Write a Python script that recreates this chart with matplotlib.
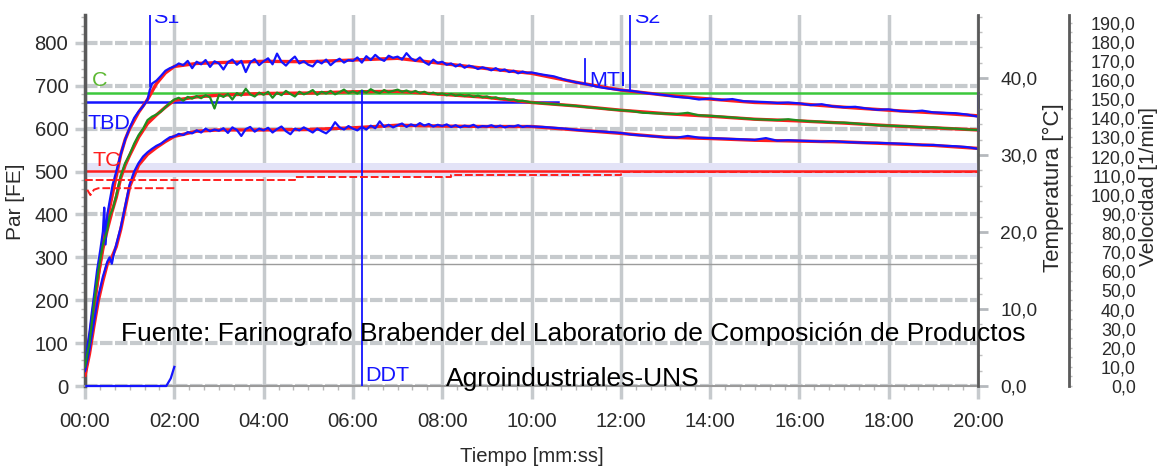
import matplotlib
matplotlib.use('Agg')
import matplotlib.pyplot as plt
from matplotlib import font_manager
from matplotlib.ticker import MultipleLocator, FuncFormatter
import numpy as np

# condensed font for the instrument labels, if it is there
names = {f.name for f in font_manager.fontManager.ttflist}
narrow = 'Liberation Sans Narrow' if 'Liberation Sans Narrow' in names else 'Liberation Sans'
shrink = 1.0 if narrow == 'Liberation Sans Narrow' else 0.86
plt.rcParams['font.family'] = [narrow, 'DejaVu Sans']

# ---- data (time in minutes, torque in FE) ----
t_fine = np.round(np.arange(2.0, 10.05, 0.1), 1)
t_late = np.arange(10.25, 20.01, 0.25)

up_t_early = [0, 0.05, 0.1, 0.15, 0.2, 0.27, 0.34, 0.4, 0.43, 0.46, 0.5, 0.55, 0.62, 0.7,
              0.8, 0.9, 1.0, 1.1, 1.2, 1.3, 1.4, 1.45, 1.5, 1.6, 1.7, 1.8, 1.9]
up_early = [40, 90, 125, 170, 210, 270, 316, 360, 416, 330, 400, 430, 470, 500,
            540, 575, 602, 625, 640, 652, 668, 690, 705, 712, 723, 735, 741]
up_fine = [745, 752, 748, 758, 741, 756, 750, 760, 744, 757,
           752, 738, 755, 761, 749, 758, 732, 754, 762, 748,
           757, 764, 750, 775, 756, 747, 759, 768, 752, 757,
           749, 745, 758, 752, 761, 748, 757, 763, 754, 760,
           758, 766, 754, 769, 760, 772, 763, 758, 770, 765,
           768, 761, 776, 764, 758, 766, 755, 749, 761, 753,
           756, 749, 752, 745, 750, 742, 747, 744, 739, 743,
           740, 736, 741, 735, 738, 732, 735, 729, 733, 730,
           731]
up_late = [726, 722, 714, 708, 703, 697, 693, 690, 688, 684, 681, 678, 674, 672, 668, 670,
           667, 669, 664, 663, 662, 660, 661, 659, 655, 657, 652, 650, 651, 647, 644, 645,
           641, 640, 642, 638, 637, 636, 633, 628]

med_t_early = [0, 0.05, 0.1, 0.2, 0.3, 0.4, 0.5, 0.55, 0.63, 0.7, 0.8, 0.9, 1.0, 1.1,
               1.2, 1.3, 1.4, 1.5, 1.6, 1.7, 1.8, 1.9]
med_early = [45, 75, 100, 190, 270, 330, 365, 395, 416, 445, 490, 520, 540, 565,
             585, 600, 620, 628, 633, 640, 650, 660]
med_fine = [668, 672, 665, 674, 670, 676, 671, 678, 673, 647,
            679, 674, 681, 668, 683, 677, 693, 680, 675, 684,
            679, 686, 672, 684, 678, 688, 681, 675, 686, 680,
            684, 690, 679, 686, 682, 688, 680, 685, 691, 683,
            687, 682, 689, 684, 692, 686, 683, 690, 685, 688,
            691, 686, 689, 684, 688, 683, 686, 681, 684, 680,
            682, 678, 681, 677, 679, 676, 678, 674, 677, 673,
            675, 671, 673, 669, 670, 667, 668, 664, 665, 663,
            661]
med_late = [659, 657, 655, 653, 650, 648, 645, 643, 641, 637, 636, 635, 634, 637, 631, 630,
            628, 626, 624, 622, 621, 620, 622, 619, 617, 616, 614, 614, 612, 610, 608, 607,
            606, 605, 603, 603, 601, 600, 598, 597]

low_t_early = [0, 0.05, 0.1, 0.2, 0.3, 0.4, 0.5, 0.55, 0.6, 0.65, 0.7, 0.8, 0.9, 1.0,
               1.1, 1.2, 1.3, 1.4, 1.5, 1.6, 1.7, 1.8, 1.9]
low_early = [35, 60, 85, 150, 210, 255, 290, 300, 285, 310, 330, 370, 420, 470,
             500, 520, 535, 545, 553, 560, 565, 573, 580]
low_fine = [582, 588, 585, 592, 589, 596, 591, 600, 594, 598,
            595, 601, 590, 603, 597, 583, 599, 604, 593, 600,
            596, 602, 591, 599, 605, 594, 587, 600, 596, 603,
            597, 591, 600, 594, 589, 598, 615, 603, 598, 606,
            600, 596, 604, 598, 607, 601, 617, 604, 609, 603,
            608, 612, 604, 610, 606, 613, 607, 611, 605, 609,
            606, 610, 604, 608, 603, 607, 605, 609, 603, 606,
            605, 608, 604, 607, 603, 606, 605, 608, 604, 606,
            605]
low_late = [604, 602, 600, 597, 595, 594, 592, 590, 586, 584, 582, 580, 579, 583, 579, 578,
            577, 576, 575, 574, 578, 572, 573, 572, 571, 570, 571, 569, 568, 567, 567, 566,
            565, 564, 562, 562, 560, 559, 557, 553]

# smoothed (red) traces
t_red = [0, 0.1, 0.2, 0.3, 0.4, 0.5, 0.6, 0.7, 0.8, 0.9, 1.0, 1.2, 1.4, 1.6, 1.8, 2.0, 2.5,
         3, 4, 5, 6, 7, 8, 9, 10, 11, 12, 13, 14, 15, 16, 17, 18, 19, 20]
red_up = [30, 110, 190, 260, 330, 390, 440, 490, 540, 575, 600, 638, 668, 705, 730, 745, 752,
          754, 757, 756, 760, 764, 752, 740, 729, 708, 690, 678, 669, 661, 658, 650, 643, 637, 630]
red_med = [30, 90, 180, 260, 320, 365, 405, 440, 485, 515, 538, 580, 612, 632, 650, 666, 674,
           678, 682, 683, 686, 687, 680, 673, 661, 653, 643, 635, 629, 622, 618, 613, 607, 602, 597]
red_low = [25, 75, 140, 200, 245, 285, 300, 325, 365, 415, 465, 515, 540, 556, 570, 582, 594,
           597, 597, 598, 602, 608, 606, 605, 605, 597, 589, 580, 577, 573, 571, 569, 565, 561, 554]

# temperature (°C) and speed (1/min)
temp_t = [0, 4.7, 8.2, 12.0, 20]
temp = [26.7, 27.15, 27.4, 27.8, 27.8]
temp2_t = [0.05, 0.12, 0.2, 0.3, 2.0]
temp2 = [25.5, 24.8, 25.5, 25.7, 25.7]
vel_t = [0.03, 1.0, 1.82, 1.92, 2.0]
vel = [0, 0, 0, 4, 10]

# evaluation marks
c_level = 684
tbd_level = 661
tbd_end = 10.6
tc_level = 502
tc_band = (487, 519)
s1_t, s1_y = 1.46, 700
s2_t, s2_y = 12.2, 688
mti_t, mti_y = 11.2, (705, 763)
ddt_t, ddt_y = 6.2, 688
end_y = (596, 684)

blue = '#1414ff'
red = '#ff1e1e'
green = '#1f8f1f'
grid_c = '#c6cacd'
txt_c = '#2a2a2a'

fig = plt.figure(figsize=(11.6, 4.7), dpi=100)
ax = fig.add_axes([0.0733, 0.1787, 0.7698, 0.7894])
ax.set_xlim(0, 20)
ax.set_ylim(0, 865)

ax.set_axisbelow(True)
ax.grid(axis='x', color=grid_c, lw=2.5)
ax.grid(axis='y', color=grid_c, lw=3, linestyle=(0, (3, 0.6)))
ax.axhline(284, color='#9c9c9c', lw=1)
ax.axhspan(*tc_band, color='#e3e3f7', lw=0, zorder=1)

t_up = np.concatenate([up_t_early, t_fine, t_late])
t_med = np.concatenate([med_t_early, t_fine, t_late])
t_low = np.concatenate([low_t_early, t_fine, t_late])

ax.plot(t_red, red_up, color=red, lw=2.4, zorder=3)
ax.plot(t_red, red_med, color=red, lw=2.4, zorder=3)
ax.plot(t_red, red_low, color=red, lw=2.4, zorder=3)
ax.plot(t_up, up_early + up_fine + up_late, color=blue, lw=1.6, zorder=4)
ax.plot(t_low, low_early + low_fine + low_late, color=blue, lw=1.6, zorder=4)
ax.plot(t_med, med_early + med_fine + med_late, color=green, lw=1.6, zorder=4)

# reference lines
ax.axhline(c_level, color='#3cc83c', lw=1.8, zorder=2)
ax.plot([0, tbd_end], [tbd_level, tbd_level], color=blue, lw=1.8, zorder=2)
ax.axhline(tc_level, color=red, lw=1.8, zorder=2)

ax.plot([s1_t, s1_t], [s1_y, 865], color=blue, lw=1.3, zorder=5)
ax.plot([s2_t, s2_t], [s2_y, 865], color=blue, lw=1.3, zorder=5)
ax.plot([mti_t, mti_t], mti_y, color=blue, lw=1.3, zorder=5)
ax.plot([ddt_t, ddt_t], [0, ddt_y], color=blue, lw=1.3, zorder=5)
ax.plot([20, 20], end_y, color=blue, lw=2, zorder=5, clip_on=False)

lab = dict(fontsize=18 * shrink, va='baseline', zorder=6)
ax.text(s1_t + 0.06, 847, 'S1', color=blue, clip_on=True, **lab)
ax.text(s2_t + 0.1, 847, 'S2', color=blue, clip_on=True, **lab)
ax.text(mti_t + 0.1, 700, 'MTI', color=blue, **lab)
ax.text(ddt_t + 0.07, 12, 'DDT', color=blue, **lab)
ax.text(0.16, 700, 'C', color='#5cb832', **lab)
ax.text(0.05, 600, 'TBD', color=blue, **lab)
ax.text(0.16, 512, 'TC', color=red, **lab)

# axes styling
ax.xaxis.set_major_locator(MultipleLocator(2))
ax.xaxis.set_minor_locator(MultipleLocator(1 / 3))
ax.xaxis.set_major_formatter(FuncFormatter(lambda v, p: f"{int(round(v)):02d}:00"))
ax.yaxis.set_major_locator(MultipleLocator(100))
ax.yaxis.set_minor_locator(MultipleLocator(20))
ax.tick_params(which='major', color=grid_c, width=2.5, labelsize=17 * shrink, labelcolor=txt_c)
ax.tick_params(axis='x', which='major', length=9, pad=10)
ax.tick_params(axis='y', which='major', length=7, pad=5)
ax.tick_params(which='minor', color='#b8b8b8', width=1, length=3)
for s in ['top', 'right']:
    ax.spines[s].set_visible(False)
ax.spines['left'].set_color('#5a5a5a')
ax.spines['left'].set_linewidth(2.5)
ax.spines['bottom'].set_color('#9a9a9a')
ax.spines['bottom'].set_linewidth(1.5)

ax.set_ylabel('Par [FE]', fontsize=15, family='Liberation Sans', color=txt_c)
ax.yaxis.set_label_coords(-0.067, 0.496)
ax.set_xlabel('Tiempo [mm:ss]', fontsize=17 * shrink, color=txt_c)
ax.xaxis.set_label_coords(0.5, -0.164)

comma = FuncFormatter(lambda v, p: f"{v:.1f}".replace('.', ','))

# temperature axis
ax2 = ax.twinx()
ax2.set_ylim(0, 48.2)
ax2.plot(temp_t, temp, color=red, lw=1.4, ls=(0, (4, 1.5)), drawstyle='steps-post', zorder=2)
ax2.plot(temp2_t, temp2, color=red, lw=1.4, ls=(0, (4, 1.5)), zorder=2)
ax2.yaxis.set_major_locator(MultipleLocator(10))
ax2.yaxis.set_minor_locator(MultipleLocator(2))
ax2.yaxis.set_major_formatter(comma)
ax2.tick_params(which='major', color='#b5b9bd', width=2, length=7, pad=9,
                labelsize=16 * shrink, labelcolor=txt_c)
ax2.tick_params(which='minor', color='#c0c0c0', width=1, length=3)
for s in ['top', 'left', 'bottom']:
    ax2.spines[s].set_visible(False)
ax2.spines['right'].set_color('#5a5a5a')
ax2.spines['right'].set_linewidth(2)

# speed axis
ax3 = ax.twinx()
ax3.spines['right'].set_position(('axes', 1.102))
ax3.set_ylim(0, 194)
ax3.plot(vel_t, vel, color=blue, lw=1.6, clip_on=False, zorder=3)
ax3.yaxis.set_major_locator(MultipleLocator(10))
ax3.yaxis.set_minor_locator(MultipleLocator(5))
ax3.yaxis.set_major_formatter(comma)
ax3.tick_params(which='major', color='#c0c0c0', width=1, length=2, pad=46,
                labelsize=15 * shrink, labelcolor=txt_c)
ax3.tick_params(which='minor', color='#c0c0c0', width=1, length=2)
plt.setp(ax3.get_yticklabels(), ha='right')
for s in ['top', 'left', 'bottom']:
    ax3.spines[s].set_visible(False)
ax3.spines['right'].set_color('#5a5a5a')
ax3.spines['right'].set_linewidth(2)

fig.text(1053 / 1160, 1 - 188 / 470, 'Temperatura [°C]', rotation=90, ha='center',
         va='center', fontsize=16, family='Liberation Sans', color=txt_c)
fig.text(1149 / 1160, 1 - 186 / 470, 'Velocidad [1/min]', rotation=90, ha='center',
         va='center', fontsize=15, family='Liberation Sans', color=txt_c)

fig.text(573 / 1160, 1 - 334 / 470,
         'Fuente: Farinografo Brabender del Laboratorio de Composición de Productos',
         ha='center', va='center', fontsize=19, family='Liberation Sans', color='black')
fig.text(573 / 1160, 1 - 379 / 470, 'Agroindustriales-UNS',
         ha='center', va='center', fontsize=19, family='Liberation Sans', color='black')

fig.savefig('out.png', dpi=100)
